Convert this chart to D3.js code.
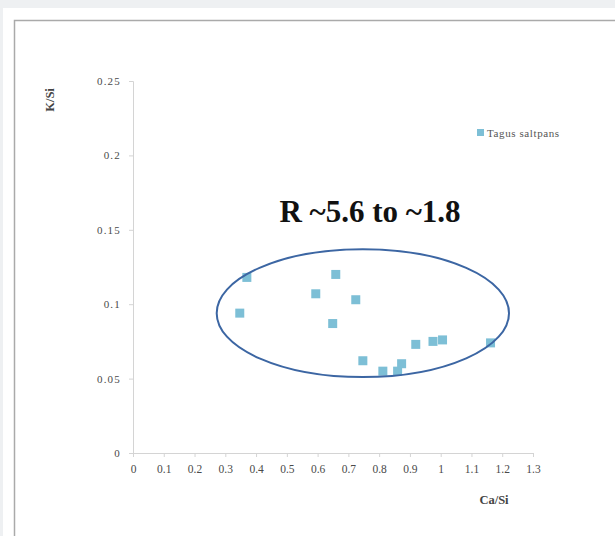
<!DOCTYPE html>
<html>
<head>
<meta charset="utf-8">
<script src="https://cdn.jsdelivr.net/npm/d3@7"></script>
<style>
  body { margin: 0; background: #eef0f2; }
  svg { display: block; }
  .tick text { font-family: "Liberation Serif", serif; fill: #4a4a4a; }
  .x-axis .tick text { font-size: 11.5px; }
  .y-axis .tick text { font-size: 11px; letter-spacing: 1.2px; }
  .tick line, .domain { stroke: #d4d4d4; }
</style>
</head>
<body>
<svg width="615" height="536"></svg>
<script>
// Ca/Si vs K/Si, Tagus saltpans samples
let caSi = [0.347, 0.370, 0.594, 0.659, 0.724, 0.649, 0.747, 0.812, 0.860, 0.873, 0.919, 0.975, 1.006, 1.162];
let kSi  = [0.094, 0.118, 0.107, 0.120, 0.103, 0.087, 0.062, 0.055, 0.055, 0.060, 0.073, 0.075, 0.076, 0.074];
let xTicks = [0, 0.1, 0.2, 0.3, 0.4, 0.5, 0.6, 0.7, 0.8, 0.9, 1, 1.1, 1.2, 1.3];
let yTicks = [0, 0.05, 0.1, 0.15, 0.2, 0.25];
let seriesName = "Tagus saltpans";
// hand-drawn ellipse annotation, in data units: [cx, cy, rx, ry]
let ellipseData = [0.747, 0.094, 0.475, 0.043];

let svg = d3.select("svg");

// page background panel + frame
svg.append("rect").attr("x", 3).attr("y", 8).attr("width", 612).attr("height", 528).attr("fill", "#fff");
svg.append("path")
    .attr("d", "M14.5,536 L14.5,20.5 L615,20.5")
    .attr("fill", "none")
    .attr("stroke", "#aaa")
    .attr("stroke-width", 1.5);

let margin = {left: 133, top: 81},
    width = 400,
    height = 372;

let g = svg.append("g")
    .attr("transform", "translate(" + margin.left + "," + margin.top + ")");

let xScale = d3.scaleLinear().domain([0, 1.3]).range([0, width]);
let yScale = d3.scaleLinear().domain([0, 0.25]).range([height, 0]);

g.append("g")
    .attr("class", "x-axis")
    .attr("transform", "translate(0," + height + ")")
    .call(d3.axisBottom(xScale).tickValues(xTicks).tickSize(4).tickPadding(8).tickFormat(d => d3.format("~g")(d)));
g.append("g")
    .attr("class", "y-axis")
    .call(d3.axisLeft(yScale).tickValues(yTicks).tickSize(4).tickPadding(8).tickFormat(d => d3.format("~g")(d)));

// axis titles
svg.append("text")
    .attr("x", 494)
    .attr("y", 504)
    .attr("text-anchor", "middle")
    .attr("font-family", "Liberation Serif, serif")
    .attr("font-weight", "bold")
    .attr("font-size", "12.5px")
    .attr("fill", "#444")
    .text("Ca/Si");
svg.append("text")
    .attr("transform", "translate(54,100) rotate(-90)")
    .attr("text-anchor", "middle")
    .attr("font-family", "Liberation Serif, serif")
    .attr("font-weight", "bold")
    .attr("font-size", "12.5px")
    .attr("fill", "#444")
    .text("K/Si");

// points
let points = caSi.map((d, i) => ({x: d, y: kSi[i]}));
g.selectAll("rect.pt")
    .data(points)
    .join("rect")
    .attr("class", "pt")
    .attr("x", d => xScale(d.x) - 4.5)
    .attr("y", d => yScale(d.y) - 4.5)
    .attr("width", 9)
    .attr("height", 9)
    .attr("fill", "#7dbfd6");

// ellipse annotation
g.append("ellipse")
    .attr("cx", xScale(ellipseData[0]))
    .attr("cy", yScale(ellipseData[1]))
    .attr("rx", xScale(ellipseData[2]) - xScale(0))
    .attr("ry", yScale(0) - yScale(ellipseData[3]))
    .attr("fill", "none")
    .attr("stroke", "#3c66a3")
    .attr("stroke-width", 2);

// annotation text
svg.append("text")
    .attr("x", 370)
    .attr("y", 222)
    .attr("text-anchor", "middle")
    .attr("font-family", "Liberation Serif, serif")
    .attr("font-weight", "bold")
    .attr("font-size", "31px")
    .attr("fill", "#111")
    .text("R ~5.6 to ~1.8");

// legend
let legend = svg.append("g").attr("transform", "translate(477,129)");
legend.append("rect").attr("width", 7).attr("height", 7).attr("fill", "#7dbfd6");
legend.append("text")
    .attr("x", 10)
    .attr("y", 7.5)
    .attr("font-family", "Liberation Serif, serif")
    .attr("font-size", "11px")
    .attr("letter-spacing", "0.6px")
    .attr("fill", "#555")
    .text(seriesName);
</script>
</body>
</html>
